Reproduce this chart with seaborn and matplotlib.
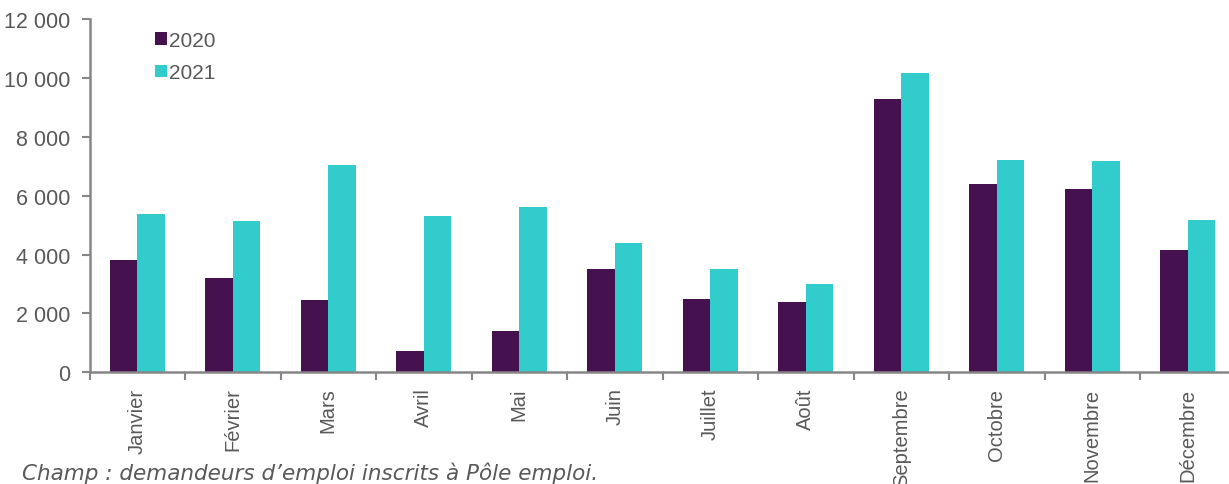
import matplotlib
matplotlib.use("Agg")
import matplotlib.pyplot as plt
import seaborn as sns
import pandas as pd
import numpy as np
from matplotlib.ticker import FuncFormatter, FixedLocator

mois = ["Janvier", "Février", "Mars", "Avril", "Mai", "Juin", "Juillet",
        "Août", "Septembre", "Octobre", "Novembre", "Décembre"]
valeurs_2020 = [3830, 3190, 2450, 735, 1390, 3525, 2495, 2375, 9275, 6395, 6225, 4170]
valeurs_2021 = [5375, 5155, 7025, 5320, 5625, 4395, 3515, 2985, 10180, 7220, 7175, 5165]
annees = ["2020", "2021"]
couleurs = ["#45114E", "#33CCCC"]
yticks = [0, 2000, 4000, 6000, 8000, 10000, 12000]
caption = "Champ : demandeurs d\u2019emploi inscrits à Pôle emploi."

df = pd.DataFrame({
    "mois": mois * 2,
    "valeur": valeurs_2020 + valeurs_2021,
    "annee": [annees[0]] * len(mois) + [annees[1]] * len(mois),
})

sns.set_theme(style="white")
plt.rcParams["font.family"] = ["DejaVu Sans"]

fig = plt.figure(figsize=(12.29, 4.85), dpi=100)
ax = fig.add_axes([89.6 / 1229, (485 - 373.3) / 485, 1146 / 1229, 353.3 / 485])

sns.barplot(data=df, x="mois", y="valeur", hue="annee", palette=couleurs,
            order=mois, hue_order=annees, width=0.575, ax=ax,
            edgecolor="none", linewidth=0, saturation=1)

gris = "#868686"
texte = "#595959"
ax.set_xlim(-0.5, len(mois) - 0.5)
ax.set_ylim(0, 12000)
ax.set_yticks(yticks)
ax.yaxis.set_major_formatter(FuncFormatter(lambda v, p: f"{int(v):,}".replace(",", " ")))
ax.set_xlabel("")
ax.set_ylabel("")

for s in ["top", "right"]:
    ax.spines[s].set_visible(False)
for s in ["left", "bottom"]:
    ax.spines[s].set_color(gris)
    ax.spines[s].set_linewidth(1.8)

ax.tick_params(axis="y", which="major", left=True, length=6, width=1.5, color=gris,
               labelsize=15.5, labelcolor=texte, pad=8)
for lab in ax.get_yticklabels():
    lab.set_fontfamily(["Liberation Sans", "DejaVu Sans"])

ax.set_xticks(range(len(mois)))
ax.set_xticklabels(mois, rotation=90, fontsize=14.5, color=texte,
                   family=["Liberation Sans", "DejaVu Sans"])
ax.tick_params(axis="x", which="major", bottom=False, length=0, pad=11)
ax.xaxis.set_minor_locator(FixedLocator(np.arange(-0.5, len(mois), 1.0)))
ax.tick_params(axis="x", which="minor", bottom=True, length=6, width=1.5, color=gris)

leg = ax.legend(loc="upper left", bbox_to_anchor=(0.041, 1.02), frameon=False,
                handlelength=0.55, handleheight=0.55, handletextpad=0.12,
                labelspacing=0.65, prop={"family": ["Liberation Sans"], "size": 15})
for t in leg.get_texts():
    t.set_color(texte)

fig.text(22 / 1229, 1 / 485, caption, fontsize=15.5, style="italic", color=texte,
         ha="left", va="bottom")

fig.savefig("out.png", dpi=100)
